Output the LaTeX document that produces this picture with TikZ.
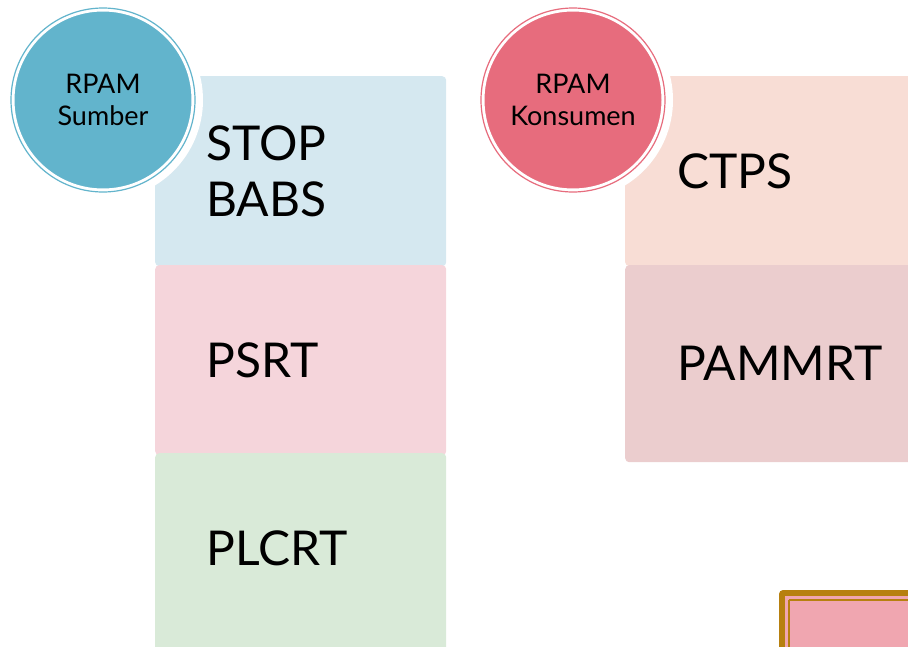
\documentclass[tikz,border=0pt]{standalone}
\usepackage{fontspec}
\setmainfont{Lato}
\usetikzlibrary{positioning}

\definecolor{srcblue}{HTML}{62B4CC}
\definecolor{conspink}{HTML}{E76C7D}
\definecolor{stopfill}{HTML}{D5E8F0}
\definecolor{psrtfill}{HTML}{F5D5DB}
\definecolor{plcrtfill}{HTML}{D9EAD8}
\definecolor{ctpsfill}{HTML}{F8DDD5}
\definecolor{pammfill}{HTML}{EBCDCE}
\definecolor{framebrown}{HTML}{B7800F}
\definecolor{framepink}{HTML}{F0A6B0}

\tikzset{
    stage/.style={rectangle, rounded corners=4pt, inner sep=0pt,
        minimum width=291pt, minimum height=190pt, anchor=north west},
    stagetext/.style={font=\fontsize{48}{56}\selectfont, align=left,
        inner sep=0pt, anchor=west},
    badge/.style={circle, inner sep=0pt, minimum size=179pt,
        draw=white, line width=2pt,
        font=\fontsize{27}{32}\selectfont, align=center},
    badgering/.style={circle, inner sep=0pt, minimum size=184pt, line width=1.2pt}
}

\begin{document}
\begin{tikzpicture}[x=1pt, y=-1pt]
    \useasboundingbox (0,0) rectangle (908,646);

    % left column
    \node[stage, fill=stopfill] (stop) at (155,76) {};
    \node[stage, fill=psrtfill] (psrt) at (155,265) {};
    \node[stage, fill=plcrtfill, minimum height=200pt] (plcrt) at (155,453) {};
    \node[stagetext, right=51pt of stop.west] (stoptext) {STOP\\BABS};
    \node[stagetext, right=51pt of psrt.west] (psrttext) {PSRT};
    \node[stagetext, right=51pt of plcrt.north west, yshift=-95pt] (plcrttext) {PLCRT};

    % right column
    \node[stage, fill=ctpsfill] (ctps) at (625,76) {};
    \node[stage, fill=pammfill, minimum height=197pt] (pammrt) at (625,265) {};
    \node[stagetext, right=52pt of ctps.west] (ctpstext) {CTPS};
    \node[stagetext, right=52pt of pammrt.west] (pammtext) {PAMMRT};

    % badges
    \fill[white] (103,100) circle (100);
    \fill[white] (573,100) circle (100);
    \node[badgering, draw=srcblue] (srcring) at (103,100) {};
    \node[badge, fill=srcblue] (src) at (103,100) {RPAM\\Sumber};
    \node[badgering, draw=conspink] (consring) at (573,100) {};
    \node[badge, fill=conspink] (cons) at (573,100) {RPAM\\Konsumen};

    % framed box in the corner
    \fill[framebrown, rounded corners=4pt] (779,590) rectangle (930,670);
    \fill[framepink] (785,596) rectangle (930,670);
    \draw[framebrown, line width=2pt] (788.5,599.5) -- (788.5,670)
        (788.5,599.5) -- (930,599.5);
\end{tikzpicture}
\end{document}
